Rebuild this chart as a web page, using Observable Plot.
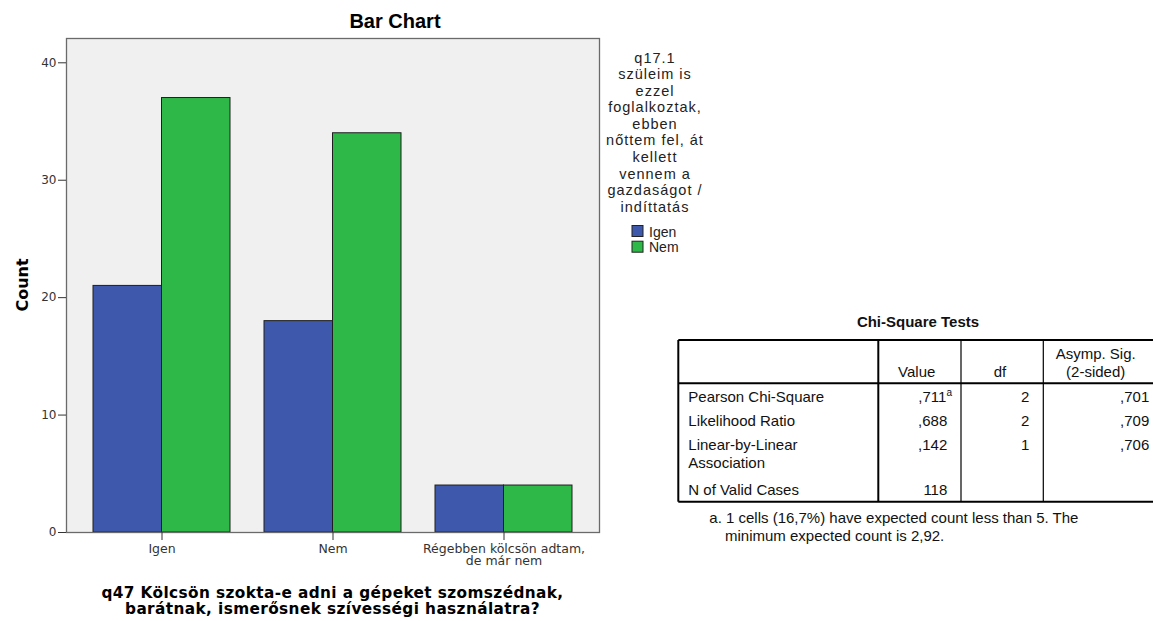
<!DOCTYPE html>
<html><head><meta charset="utf-8">
<script src="https://cdn.jsdelivr.net/npm/d3@7"></script>
<script src="https://cdn.jsdelivr.net/npm/@observablehq/plot@0.6"></script>
<style>
html,body{margin:0;padding:0;background:#fff;}
body{width:1153px;height:621px;overflow:hidden;position:relative;}
#chart{position:absolute;left:0;top:0;}
#overlay{position:absolute;left:0;top:0;pointer-events:none;}
</style></head><body>
<div id="chart"></div>
<svg id="overlay" width="1153" height="621"></svg>
<script>
// ---- chart data ----
const categories = ["Igen", "Nem", "Régebben kölcsön adtam, de már nem"];
const categoryTickLabels = ["Igen", "Nem", "Régebben kölcsön adtam,\nde már nem"];
const seriesNames = ["Igen", "Nem"];
const igenCounts = [21, 18, 4];
const nemCounts = [37, 34, 4];
const yTicks = [0, 10, 20, 30, 40];
const seriesColors = ["#3e58ac", "#2eb848"];

const chartTitle = "Bar Chart";
const yTitle = "Count";
const xTitleLines = ["q47 Kölcsön szokta-e adni a gépeket szomszédnak,", "barátnak, ismerősnek szívességi használatra?"];
const legendTitleLines = ["q17.1", "szüleim is", "ezzel", "foglalkoztak,", "ebben", "nőttem fel, át", "kellett", "vennem a", "gazdaságot /", "indíttatás"];

// ---- table data ----
const tableTitle = "Chi-Square Tests";
const tableHeaderTop = ["", "", "", "Asymp. Sig."];
const tableHeaderBottom = ["", "Value", "df", "(2-sided)"];
const tableRowLabels = ["Pearson Chi-Square", "Likelihood Ratio", "Linear-by-Linear\nAssociation", "N of Valid Cases"];
const tableValues = [",711", ",688", ",142", "118"];
const tableValueNotes = ["a", "", "", ""];
const tableDf = ["2", "2", "1", ""];
const tableSig = [",701", ",709", ",706", ""];
const tableFootnote = ["a. 1 cells (16,7%) have expected count less than 5. The", "minimum expected count is 2,92."];

const data = categories.flatMap((c, i) => [
  {category: c, series: seriesNames[0], count: igenCounts[i]},
  {category: c, series: seriesNames[1], count: nemCounts[i]}
]);

function build(half) {
  return Plot.plot({
    width: 620, height: 621,
    marginLeft: 66, marginRight: 21, marginTop: 38, marginBottom: 89,
    style: {background: "transparent", fontFamily: "DejaVu Sans", overflow: "visible"},
    x: {domain: categories, paddingInner: 0.2, paddingOuter: 0.155},
    y: {domain: [0, 42.07]},
    color: {domain: seriesNames, range: seriesColors},
    marks: [
      Plot.frame({fill: "#f0f0f0"}),
      Plot.barY(data.filter(d => d.series === seriesNames[0]), {x: "category", y: "count", fill: "series", stroke: "#1e1e1e", strokeWidth: 1, insetRight: half}),
      Plot.barY(data.filter(d => d.series === seriesNames[1]), {x: "category", y: "count", fill: "series", stroke: "#1e1e1e", strokeWidth: 1, insetLeft: half}),
      Plot.frame({stroke: "#6a6a6a", strokeWidth: 1.3}),
      Plot.axisY({ticks: yTicks, tickSize: 8, tickPadding: 2, label: null, fontSize: 12, fontFamily: "DejaVu Sans", color: "#333"}),
      Plot.axisX({tickSize: 8, tickPadding: 3, label: null, fontSize: 12.5, fontFamily: "DejaVu Sans", color: "#333", lineHeight: 1.02,
        tickFormat: d => categoryTickLabels[categories.indexOf(d)]})
    ]
  });
}
let chart = build(0);
const bw = chart.scale("x").bandwidth;
chart = build(bw / 2);
document.getElementById("chart").append(chart);

// ---- overlay texts ----
const svg = d3.select("#overlay");
const sans = "'Liberation Sans', Arial, sans-serif";
function txt(x, y, s, o = {}) {
  const t = svg.append("text").attr("x", x).attr("y", y).text(s)
    .attr("font-family", o.family || sans).attr("font-size", o.size || 15)
    .attr("font-weight", o.weight || "normal").attr("text-anchor", o.anchor || "start")
    .attr("fill", o.fill || "#111");
  if (o.transform) t.attr("transform", o.transform);
  if (o.ls) t.attr("letter-spacing", o.ls);
  return t;
}
txt(395, 28.3, chartTitle, {size: 20, weight: "bold", anchor: "middle", fill: "#000"});
txt(0, 0, yTitle, {family: "'DejaVu Sans'", size: 16, weight: "bold", anchor: "middle", fill: "#000", transform: "translate(28.3,285) rotate(-90)"});
xTitleLines.forEach((l, i) => txt(332.5, 597.5 + i * 16.5, l, {family: "'DejaVu Sans'", size: 15.3, weight: "bold", anchor: "middle", fill: "#000", ls: 0.4}));

// legend
legendTitleLines.forEach((l, i) => txt(655, 62.7 + i * 16.55, l, {size: 14.5, anchor: "middle", fill: "#222", ls: 1}));
seriesNames.forEach((s, i) => {
  svg.append("rect").attr("x", 632).attr("y", 225.5 + i * 15.7).attr("width", 11).attr("height", 11)
    .attr("fill", seriesColors[i]).attr("stroke", "#222").attr("stroke-width", 1);
  txt(649, 236.5 + i * 15.7, s, {size: 14, fill: "#222"});
});

// table
txt(918, 326.7, tableTitle, {size: 15, weight: "bold", anchor: "middle"});
const L = 678.3, T = 340, HB = 383.3, B = 501.7, R = 1160;
const colX = [878.3, 961, 1043.3];
function line(x1, y1, x2, y2, w) {
  svg.append("line").attr("x1", x1).attr("y1", y1).attr("x2", x2).attr("y2", y2)
    .attr("stroke", "#000").attr("stroke-width", w);
}
line(L, T, R, T, 2); line(L, B, R, B, 2); line(L, T, L, B, 2); line(L, HB, R, HB, 2);
line(colX[0], T, colX[0], B, 2); line(colX[1], T, colX[1], B, 1.2); line(colX[2], T, colX[2], B, 1.2);
const headCenters = [0, 916.7, 1000, 1095.7];
[1, 2, 3].forEach(j => {
  if (tableHeaderTop[j]) txt(headCenters[j], 359.3, tableHeaderTop[j], {anchor: "middle"});
  txt(headCenters[j], 377.3, tableHeaderBottom[j], {anchor: "middle"});
});
const rowBase = [401.7, 426, 450, 495];
tableRowLabels.forEach((lab, i) => {
  lab.split("\n").forEach((p, k) => txt(688.3, rowBase[i] + k * 18.3, p));
  if (tableValueNotes[i]) {
    const t = txt(952, rowBase[i], tableValues[i], {anchor: "end"});
    t.append("tspan").attr("font-size", 10).attr("dy", -6).text(tableValueNotes[i]);
  } else {
    txt(947.3, rowBase[i], tableValues[i], {anchor: "end"});
  }
  if (tableDf[i]) txt(1029.3, rowBase[i], tableDf[i], {anchor: "end"});
  if (tableSig[i]) txt(1149.3, rowBase[i], tableSig[i], {anchor: "end"});
});
txt(709.3, 522.7, tableFootnote[0]);
txt(725, 540.7, tableFootnote[1]);
</script></body></html>
